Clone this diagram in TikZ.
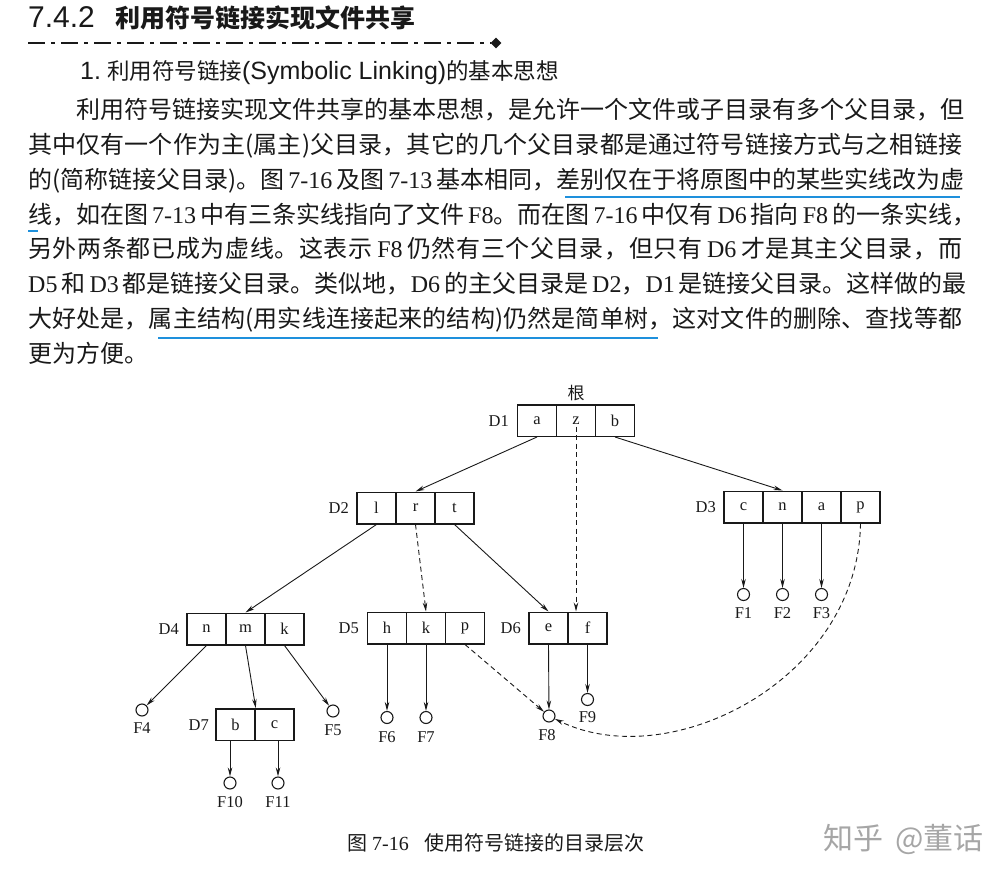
\documentclass[tikz,border=0pt]{standalone}
\usepackage{fontspec}
\setmainfont{Liberation Serif}
\newfontfamily\cjk{Noto Sans CJK SC}
\newfontfamily\hsans{Liberation Sans}
\usetikzlibrary{arrows.meta,shapes.geometric}
\definecolor{ublue}{RGB}{30,144,220}
\definecolor{ink}{RGB}{25,25,25}
\newcommand\LT[1]{{\rmfamily\hspace{4pt}#1\hspace{4pt}}}
\newcommand\LTl[1]{{\rmfamily\hspace{4pt}#1}}
\newcommand\LTr[1]{{\rmfamily #1\hspace{4pt}}}
\makeatletter
\newcommand\jline[2]{\hbox to #1{\let\jl@first\relax\@tfor\jl@x:=#2\do{\jl@first\def\jl@first{\hskip 0pt plus 1fil\relax}\jl@x}}}
\makeatother
\newcommand\dfont{\fontsize{16.5}{18}\selectfont}
\newcommand\bodyfont{\cjk\fontsize{24}{30}\selectfont}
\begin{document}
\begin{tikzpicture}[x=1pt,y=-1pt,
  every node/.style={text=ink},
  cell/.style={draw=ink, line width=1.5pt, minimum width=39pt, minimum height=31.5pt, inner sep=0pt, font=\dfont},
  dlab/.style={anchor=east, inner sep=0pt, font=\dfont},
  file/.style={draw=ink, circle, line width=1.1pt, minimum size=12pt, inner sep=0pt},
  flab/.style={inner sep=0pt, font=\dfont},
  arr/.style={draw=ink, line width=0.9pt, -{Stealth[length=9pt,width=4.5pt]}},
  darr/.style={arr, dash pattern=on 5pt off 3.5pt},
  bodyline/.style={anchor=base west, inner sep=0pt, font=\bodyfont},
  uline/.style={draw=ublue, line width=2.6pt}
]
\useasboundingbox (0,0) rectangle (1008,877);

% ---- header ----
\node[anchor=base west, inner sep=0pt] (h1) at (28,28)
  {{\hsans\fontsize{30}{30}\selectfont 7.4.2}\hspace{21pt}{\cjk\bfseries\fontsize{25}{25}\selectfont 利用符号链接实现文件共享}};
\node[diamond, fill=ink, minimum size=11pt, inner sep=0pt] (dm) at (496,43) {};
\coordinate (hl) at (28,43);
\draw[ink, line width=2.8pt, dash pattern=on 17pt off 6pt on 4pt off 6pt] (hl) -- (dm.west);
\node[anchor=base west, inner sep=0pt] (h2) at (80,80)
  {{\hsans\fontsize{25}{25}\selectfont 1.}\hspace{6pt}{\cjk\fontsize{22.5}{25}\selectfont 利用符号链接}{\hsans\fontsize{25}{25}\selectfont (Symbolic Linking)}{\cjk\fontsize{22.5}{25}\selectfont 的基本思想}};

% ---- body ----
\node[bodyline] (b1) at (76,119) {\jline{886pt}{利用符号链接实现文件共享的基本思想，是允许一个文件或子目录有多个父目录，但}};
\node[bodyline] (b2) at (28,153.7) {\jline{934pt}{其中仅有一个作为主(属主)父目录，其它的几个父目录都是通过符号链接方式与之相链接}};
\node[bodyline] (b3) at (28,188.4) {\jline{934pt}{的(简称链接父目录)。图{\LT{7-16}}及图{\LT{7-13}}基本相同，差别仅在于将原图中的某些实线改为虚}};
\node[bodyline] (b4) at (28,223) {\jline{934pt}{线，如在图{\LT{7-13}}中有三条实线指向了文件{\LTl{F8}}。而在图{\LT{7-16}}中仅有{\LT{D6}}指向{\LT{F8}}的一条实线，}};
\node[bodyline] (b5) at (28,257.8) {\jline{934pt}{另外两条都已成为虚线。这表示{\LT{F8}}仍然有三个父目录，但只有{\LT{D6}}才是其主父目录，而}};
\node[bodyline] (b6) at (28,292.5) {\jline{934pt}{{\LTr{D5}}和{\LT{D3}}都是链接父目录。类似地，{\LTr{D6}}的主父目录是{\LTl{D2}}，{\LTr{D1}}是链接父目录。这样做的最}};
\node[bodyline] (b7) at (28,327) {\jline{934pt}{大好处是，属主结构(用实线连接起来的结构)仍然是简单树，这对文件的删除、查找等都}};
\node[bodyline] (b8) at (28,362) {更为方便。};
\draw[uline] (565,197) -- (960,197);
\draw[uline] (28,231) -- (38,231);
\draw[uline] (158,338) -- (658,338);

% ---- diagram: directories ----
\node[inner sep=0pt, font=\cjk\fontsize{17}{17}\selectfont] (root) at (576,393) {根};
\node[cell] (d1a) at (537,420.5) {a};
\node[cell] (d1z) at (576,420.5) {z};
\node[cell] (d1b) at (615,420.5) {b};
\node[dlab] (l1) at (509,421) {D1};

\node[cell] (d2l) at (376.5,508) {l};
\node[cell] (d2r) at (415.5,508) {r};
\node[cell] (d2t) at (454.5,508) {t};
\node[dlab] (l2) at (349,508) {D2};

\node[cell] (d3c) at (743.5,507) {c};
\node[cell] (d3n) at (782.5,507) {n};
\node[cell] (d3a) at (821.5,507) {a};
\node[cell] (d3p) at (860.5,507) {p};
\node[dlab] (l3) at (716,507) {D3};

\node[cell] (d4n) at (206.5,629) {n};
\node[cell] (d4m) at (245.5,629) {m};
\node[cell] (d4k) at (284.5,629) {k};
\node[dlab] (l4) at (179,629) {D4};

\node[cell] (d5h) at (387,628) {h};
\node[cell] (d5k) at (426,628) {k};
\node[cell] (d5p) at (465,628) {p};
\node[dlab] (l5) at (359,628) {D5};

\node[cell] (d6e) at (548.5,628) {e};
\node[cell] (d6f) at (587.5,628) {f};
\node[dlab] (l6) at (521,628) {D6};

\node[cell] (d7b) at (235.5,724.5) {b};
\node[cell] (d7c) at (274.5,724.5) {c};
\node[dlab] (l7) at (209,725) {D7};

% ---- files ----
\node[file] (f1) at (743.5,594.5) {};  \node[flab] (t1) at (743.5,613) {F1};
\node[file] (f2) at (782.5,594.5) {};  \node[flab] (t2) at (782.5,613) {F2};
\node[file] (f3) at (821.5,594.5) {};  \node[flab] (t3) at (821.5,613) {F3};
\node[file] (f4) at (142,710) {};      \node[flab] (t4) at (142,728) {F4};
\node[file] (f5) at (333,711) {};      \node[flab] (t5) at (333,730) {F5};
\node[file] (f6) at (387,717.5) {};    \node[flab] (t6) at (387,737) {F6};
\node[file] (f7) at (426,717.5) {};    \node[flab] (t7) at (426,737) {F7};
\node[file] (f8) at (549,716) {};      \node[flab] (t8) at (547,735) {F8};
\node[file] (f9) at (587.5,699.5) {};  \node[flab] (t9) at (587.5,717) {F9};
\node[file] (f10) at (230,783) {};     \node[flab] (t10) at (230,802) {F10};
\node[file] (f11) at (278,783) {};     \node[flab] (t11) at (278,802) {F11};

% ---- connectors ----
\draw[arr] (d1a.south) -- (d2r.north);
\draw[arr] (d1b.south) -- (d3n.north);
\coordinate (zs) at ([yshift=-6pt]d1z.center);
\draw[darr] (zs) -- (zs |- d6f.north);
\draw[arr] (d2l.south) -- (d4m.north);
\draw[darr] (d2r.south) -- (d5k.north);
\draw[arr] (d2t.south) -- (d6e.north);
\draw[arr] (d3c.south) -- (f1);
\draw[arr] (d3n.south) -- (f2);
\draw[arr] (d3a.south) -- (f3);
\draw[darr] (d3p.south) .. controls (858,680) and (670,775) .. (f8);
\draw[arr] (d4n.south) -- (f4);
\draw[arr] (d4m.south) -- (d7b.north east);
\draw[arr] (d4k.south) -- (f5);
\draw[arr] (d5h.south) -- (f6);
\draw[arr] (d5k.south) -- (f7);
\draw[darr] (d5p.south) -- (f8);
\draw[arr] (d6e.south) -- (f8);
\draw[arr] (d6f.south) -- (f9);
\draw[arr] (d7b.south -| f10) -- (f10);
\draw[arr] (d7c.south -| f11) -- (f11);

% ---- caption and watermark ----
\node[anchor=base west, inner sep=0pt] (cap) at (347,850)
  {{\cjk\fontsize{20}{20}\selectfont 图}\hspace{5pt}{\fontsize{20}{20}\selectfont 7-16}\hspace{16pt}{\cjk\fontsize{20}{20}\selectfont 使用符号链接的目录层次}};
\node[anchor=base west, inner sep=0pt, text=black!35] (wm) at (823,849)
  {\cjk\fontsize{30}{30}\selectfont 知乎\hspace{12pt}@董话};
\end{tikzpicture}
\end{document}
